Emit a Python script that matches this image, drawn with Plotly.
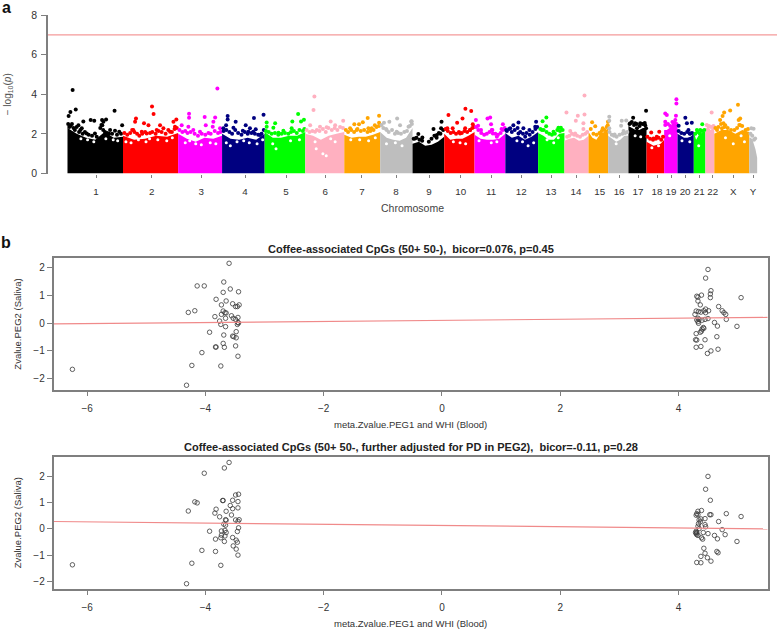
import plotly.graph_objects as go
from plotly.subplots import make_subplots
import numpy as np

WIDTH = 778
HEIGHT = 631

chrom_names = ['1', '2', '3', '4', '5', '6', '7', '8', '9', '10', '11', '12', '13', '14', '15', '16',
               '17', '18', '19', '20', '21', '22', 'X', 'Y']
chrom_length = [249, 247, 197, 191, 182, 175, 161, 145, 142, 136, 138, 147, 118, 108, 88, 91,
                81, 79, 60, 73, 52, 40, 157, 35]
chrom_ticks = [128, 378, 599, 796, 980, 1155, 1320, 1473, 1621, 1763, 1899, 2034, 2168, 2280, 2386, 2473,
               2558, 2643, 2706, 2769, 2832, 2893, 2985, 3074]
chrom_colors = ['black', 'red', 'magenta', 'navy', 'lime', '#FFB0C0', 'orange', '#BEBEBE']

# top of the solid band of points, read along each chromosome
band_top = [
    [2.3, 2.0, 1.8, 1.7, 2.1, 1.8, 1.85],
    [1.9, 1.7, 1.75, 1.9, 1.85, 2.05],
    [2.0, 1.75, 1.6, 1.8, 1.75, 1.9],
    [2.0, 1.75, 1.7, 1.8, 1.7, 2.0],
    [2.1, 1.8, 1.8, 1.9, 1.9, 2.1],
    [2.0, 1.9, 1.7, 1.9, 2.0, 2.1],
    [1.95, 1.8, 1.85, 1.85, 1.95, 2.1],
    [2.1, 1.8, 1.7, 1.65, 1.8, 2.3],
    [1.5, 1.6, 1.4, 1.45, 1.6, 1.85],
    [2.0, 1.7, 1.75, 1.75, 1.9, 2.1],
    [1.95, 1.75, 1.7, 1.7, 1.75, 2.0],
    [2.05, 1.8, 1.9, 1.7, 1.85, 2.1],
    [2.05, 1.9, 1.7, 1.7, 2.0, 2.05],
    [1.65, 1.75, 1.8, 1.65, 1.7, 1.9],
    [2.1, 1.8, 1.7, 2.0, 2.1, 2.3],
    [1.9, 1.75, 1.6, 1.7, 1.9, 1.9],
    [2.4, 2.3, 2.2, 2.2, 2.3, 2.3],
    [1.6, 1.5, 1.4, 1.45, 1.5, 1.7],
    [2.2, 2.2, 2.3, 2.4, 2.5, 2.4],
    [2.0, 1.9, 1.8, 1.8, 1.85, 2.0],
    [2.1, 1.7, 1.9, 2.0, 2.1, 2.1],
    [2.3, 2.3, 2.3, 2.2, 2.3, 2.3],
    [2.0, 2.2, 2.2, 2.0, 2.2, 2.1],
    [1.8, 1.8, 1.7, 1.5, 1.2, 0.8],
]

# strongest points, genome position in Mb from the start of chr1
hit_pos = [
    [23, 37, 13, 5, 211, 104, 120, 71, 155, 173, 161, 245, 64, 49, 86, 123, 191, 213, 156, 232],
    [379, 386, 307, 303, 343, 363, 475, 488, 415, 430, 400, 333, 482, 295, 355, 460],
    [672, 545, 545, 615, 662, 620, 654, 512, 542, 594, 651, 564, 684],
    [718, 718, 754, 711, 744, 699, 836, 879, 799, 786, 818, 844, 811, 863, 833],
    [893, 893, 931, 923, 1034, 1008, 1047, 1060, 1005, 968, 946],
    [1107, 1103, 1180, 1236, 1088, 1132, 1162, 1200, 1110],
    [1346, 1397, 1324, 1286, 1307, 1378, 1397, 1267, 1297, 1349, 1364],
    [1478, 1443, 1541, 1419, 1491, 1431, 1476, 1529, 1543],
    [1677, 1641, 1573, 1591, 1558, 1656, 1675],
    [1708, 1784, 1810, 1771, 1747, 1817, 1727, 1703, 1783, 1805, 1760],
    [1831, 1841, 1883, 1895, 1899, 1952, 1946, 1854, 1907, 1925, 1902],
    [2022, 1999, 1985, 2101, 2097, 2071, 2044, 1967, 2022, 2052],
    [2147, 2130, 2146, 2201, 2212, 2179, 2127],
    [2318, 2237, 2288, 2318, 2279, 2313, 2313, 2254, 2276],
    [2352, 2366, 2400, 2422, 2423, 2388],
    [2429, 2429, 2485, 2505, 2482, 2493, 2453, 2429],
    [2536, 2594, 2523, 2545, 2590, 2568, 2594, 2553],
    [2617, 2653, 2642, 2627],
    [2730, 2730, 2680, 2687, 2728, 2725, 2680, 2717],
    [2770, 2777, 2799, 2740, 2784, 2792],
    [2846, 2822, 2837],
    [2888, 2874, 2897],
    [3006, 2971, 2944, 2937, 2926, 2941, 2949, 2912, 3016, 3009, 3016, 3051, 2934],
    [3076, 3066, 3083],
]
hit_logp = [
    [4.22, 3.23, 3.11, 2.90, 3.17, 2.70, 2.66, 2.63, 2.70, 2.73, 2.61, 2.44, 2.28, 2.44, 2.02, 2.02, 2.19, 2.16, 2.44, 2.11],
    [3.38, 3.00, 2.78, 2.61, 2.53, 2.44, 2.61, 2.73, 2.44, 2.28, 2.19, 2.11, 2.36, 2.19, 2.02, 2.11],
    [4.29, 3.01, 2.81, 2.85, 2.83, 2.44, 2.61, 2.44, 2.36, 2.11, 2.36, 2.19, 2.28],
    [2.90, 2.73, 2.61, 2.44, 2.31, 2.28, 2.80, 2.96, 2.43, 2.16, 2.28, 2.23, 2.11, 1.94, 2.11],
    [2.58, 2.36, 2.53, 2.31, 3.00, 2.63, 2.63, 2.71, 2.28, 2.16, 2.06],
    [3.89, 3.20, 2.63, 2.66, 2.44, 2.36, 2.33, 2.44, 2.11],
    [2.80, 2.91, 2.59, 2.48, 2.48, 2.44, 2.56, 2.28, 2.19, 2.28, 2.28],
    [2.78, 2.61, 2.63, 2.56, 2.44, 2.19, 2.11, 2.36, 2.64],
    [2.61, 2.24, 1.99, 1.82, 1.77, 1.94, 2.28],
    [2.95, 3.27, 3.15, 2.78, 2.56, 2.48, 2.28, 2.28, 2.28, 2.19, 2.02],
    [2.70, 2.41, 2.78, 2.83, 2.49, 2.48, 2.24, 2.19, 2.02, 1.85, 2.19],
    [2.58, 2.44, 2.28, 2.61, 2.36, 2.19, 2.28, 2.19, 2.02, 1.85],
    [2.83, 2.64, 2.39, 2.31, 2.31, 2.11, 2.19],
    [3.94, 3.08, 2.91, 2.98, 2.66, 2.53, 2.24, 2.14, 2.02],
    [2.59, 2.38, 2.28, 2.44, 2.61, 2.02],
    [2.86, 2.66, 2.66, 2.68, 2.41, 2.14, 1.97, 2.28],
    [2.81, 3.17, 2.53, 2.53, 2.44, 2.53, 2.28, 2.28],
    [2.07, 2.11, 1.85, 1.77],
    [3.75, 3.53, 3.03, 2.95, 2.91, 2.70, 2.61, 2.44],
    [2.81, 2.53, 2.56, 2.41, 2.19, 2.02],
    [2.48, 2.19, 2.19],
    [3.08, 2.36, 2.36],
    [3.47, 3.18, 3.08, 2.90, 2.70, 2.53, 2.44, 2.19, 2.78, 2.70, 2.44, 2.24, 2.28],
    [2.26, 2.29, 1.77],
]

# crowded points just above the solid band
fringe_pos = [
    [3, 8, 14, 20, 27, 33, 41, 52, 58, 68, 78, 95, 110, 131, 147, 152, 160, 168, 178, 186, 200, 222, 240],
    [255, 268, 281, 290, 300, 312, 322, 335, 348, 370, 380, 395, 408, 422, 440, 452, 468, 480, 490],
    [502, 515, 528, 538, 552, 570, 585, 602, 618, 632, 642, 660, 675, 686],
    [700, 712, 726, 738, 752, 765, 780, 795, 808, 825, 840, 855, 870, 880],
    [890, 902, 915, 930, 945, 960, 975, 990, 1002, 1015, 1028, 1040, 1055, 1062],
    [1072, 1085, 1098, 1118, 1130, 1145, 1158, 1170, 1185, 1198, 1210, 1222, 1235],
    [1248, 1258, 1272, 1285, 1300, 1315, 1330, 1345, 1358, 1372, 1385, 1396],
    [1408, 1416, 1428, 1440, 1455, 1468, 1482, 1495, 1510, 1522, 1535, 1544],
    [1552, 1565, 1578, 1590, 1620, 1632, 1645, 1655, 1665, 1672, 1684],
    [1695, 1705, 1718, 1730, 1742, 1755, 1768, 1780, 1792, 1805, 1815, 1822],
    [1832, 1842, 1855, 1868, 1880, 1892, 1905, 1918, 1930, 1942, 1952, 1960],
    [1970, 1980, 1992, 2005, 2018, 2030, 2042, 2058, 2072, 2085, 2098, 2106],
    [2120, 2135, 2148, 2160, 2172, 2185, 2196, 2208, 2220],
    [2240, 2250, 2262, 2272, 2285, 2298, 2310, 2322, 2330],
    [2346, 2358, 2372, 2385, 2395, 2408, 2418],
    [2430, 2440, 2450, 2462, 2475, 2488, 2500, 2510],
    [2520, 2530, 2540, 2552, 2565, 2578, 2588],
    [2600, 2612, 2625, 2638, 2650, 2662, 2670],
    [2680, 2692, 2702, 2712, 2722, 2730],
    [2740, 2752, 2765, 2778, 2790, 2800],
    [2815, 2825, 2835, 2845, 2855],
    [2866, 2876, 2886, 2896],
    [2905, 2918, 2930, 2945, 2960, 2975, 2990, 3002, 3012, 3025, 3040],
    [3062, 3070, 3078],
]
fringe_logp = [
    [2.5, 2.35, 2.4, 2.5, 2.3, 2.2, 2.35, 2.1, 2.2, 2.0, 2.1, 1.95, 1.9, 1.85, 2.3, 2.45, 2.2, 2.1, 2.05, 2.0, 2.0, 1.95, 2.0],
    [2.05, 1.95, 2.05, 2.2, 2.1, 2.0, 1.9, 2.0, 2.1, 2.05, 2.1, 2.0, 2.15, 2.1, 2.0, 2.2, 2.1, 2.25, 2.3],
    [2.2, 2.1, 2.15, 2.05, 2.1, 2.0, 1.9, 2.0, 1.95, 2.05, 2.0, 2.15, 2.05, 2.1],
    [2.15, 2.2, 2.1, 2.0, 2.2, 2.05, 1.95, 2.1, 2.0, 2.05, 2.0, 1.95, 2.0, 2.2],
    [2.15, 2.1, 2.0, 2.05, 1.95, 2.0, 2.05, 2.0, 2.1, 2.15, 2.05, 2.2, 2.15, 2.25],
    [2.2, 2.1, 2.15, 2.2, 2.15, 2.25, 2.1, 2.3, 2.2, 2.3, 2.2, 2.35, 2.3],
    [2.2, 2.1, 2.2, 2.1, 2.25, 2.15, 2.2, 2.1, 2.15, 2.2, 2.35, 2.4],
    [2.45, 2.3, 2.25, 2.1, 2.2, 2.0, 2.05, 2.0, 2.1, 2.15, 2.4, 2.5],
    [1.75, 1.8, 1.7, 1.65, 1.6, 1.75, 1.9, 1.8, 2.05, 2.0, 2.2],
    [2.25, 2.15, 2.05, 2.1, 2.0, 2.1, 2.05, 2.15, 2.1, 2.2, 2.3, 2.35],
    [2.35, 2.2, 2.05, 1.95, 2.0, 2.1, 2.2, 2.0, 1.95, 2.05, 2.2, 2.3],
    [2.15, 2.25, 2.1, 2.2, 2.3, 2.1, 2.0, 2.05, 1.95, 2.1, 2.25, 2.35],
    [2.25, 2.2, 2.1, 2.0, 1.95, 2.0, 2.2, 2.15, 2.2],
    [1.85, 1.9, 2.0, 1.95, 1.9, 1.85, 1.95, 2.0, 2.1],
    [2.25, 2.0, 1.95, 2.05, 2.15, 2.2, 2.35],
    [2.1, 1.95, 1.9, 1.85, 1.95, 2.0, 2.05, 2.1],
    [2.5, 2.6, 2.45, 2.5, 2.4, 2.5, 2.55],
    [1.85, 1.75, 1.7, 1.75, 1.8, 1.7, 1.85],
    [2.45, 2.5, 2.4, 2.6, 2.55, 2.5],
    [2.15, 2.05, 2.0, 2.1, 2.0, 2.05],
    [2.0, 2.1, 2.0, 2.15, 2.2],
    [2.45, 2.4, 2.35, 2.4],
    [2.3, 2.35, 2.5, 2.35, 2.3, 2.2, 2.2, 2.3, 2.45, 2.4, 2.2],
    [2.0, 1.9, 1.7],
]

# white holes among the points of the solid band
hole_pos = [60, 90, 118, 172, 205, 225, 262, 285, 318, 352, 368, 405, 445, 470, 528, 548, 575, 600, 640, 665,
            712, 730, 760, 790, 815, 850, 875, 920, 935, 1000, 1040, 1110, 1115, 1145, 1160, 1180, 1200, 1270,
            1310, 1350, 1380, 1430, 1470, 1500, 1730, 1760, 1785, 1845, 1900, 1925, 2015, 2040, 2065, 2090,
            2150, 2180, 2200, 2460, 2545, 2570, 2620, 2650, 2700, 2755, 2790, 2830, 2950, 2985, 3020, 3035]
hole_logp = [1.75, 1.7, 1.6, 1.75, 1.7, 1.65, 1.6, 1.55, 1.7, 1.6, 1.75, 1.7, 1.65, 1.8, 1.55, 1.65, 1.5, 1.45, 1.55, 1.5,
             1.55, 1.4, 1.6, 1.65, 1.55, 1.5, 1.7, 1.5, 1.25, 1.65, 1.7, 1.6, 1.25, 1.0, 0.9, 1.75, 1.6, 1.7,
             1.7, 1.65, 1.8, 1.5, 1.55, 1.4, 1.6, 1.55, 1.5, 1.65, 1.55, 1.6, 1.65, 1.6, 1.4, 1.55,
             1.7, 1.55, 1.8, 1.5, 1.9, 1.85, 1.3, 1.4, 1.9, 1.65, 1.6, 1.4, 1.8, 1.5, 1.9, 1.6]

# regions with no probes
gap_center = [137, 1609, 2112, 2232, 2340, 2860]
gap_width = [9, 12, 5, 8, 8, 4]
gap_top = [1.65, 1.7, 2.1, 1.8, 2.1, 2.2]

threshold = 7

blood_top_neg = [-6.25, -4.32, -4.23, -4.06, -4.29, -4.18, -4.14, -4.02, -3.60, -3.69, -3.58, -3.70, -3.44, -3.82, -3.65,
                 -3.73, -3.54, -3.43, -3.46, -3.49, -3.84, -3.73, -3.70, -3.67, -3.65, -3.56, -3.53, -3.45, -3.66, -3.49,
                 -3.76, -3.74, -3.66, -3.45, -3.44, -3.46, -3.93, -3.69, -3.48, -3.54, -3.52, -3.48, -3.70, -3.83, -3.82,
                 -3.68, -3.49, -3.45, -3.74]
saliva_top_neg = [-1.66, -2.23, -1.52, -1.06, 0.38, 0.44, 1.33, 1.33, 2.14, 1.47, 1.22, 1.10, 1.12, 0.85, 0.79,
                  0.65, 0.69, 0.65, 0.59, 0.59, 0.23, 0.31, 0.43, 0.37, 0.36, 0.26, 0.17, 0.20, 0.17, 0.13,
                  0.07, -0.05, -0.13, 0.02, 0.00, -0.05, -0.33, -0.43, -0.31, -0.47, -0.49, -0.53, -0.73, -0.86, -0.86,
                  -0.87, -0.82, -1.19, -1.54]
blood_top_pos = [4.50, 4.46, 4.55, 4.54, 4.54, 4.39, 4.31, 4.33, 4.33, 4.37, 5.06, 4.68, 4.74, 4.77, 4.80,
                 4.30, 4.34, 4.38, 4.43, 4.46, 4.51, 4.28, 4.46, 4.81, 4.50, 4.45, 4.33, 4.31, 4.33, 4.34,
                 4.61, 4.66, 4.99, 4.43, 4.40, 4.39, 4.37, 4.30, 4.65, 4.29, 4.31, 4.45, 4.30, 4.38, 4.67,
                 4.55, 4.49, 4.40, 4.42, 4.35]
saliva_top_pos = [1.92, 1.61, 1.16, 1.04, 0.91, 1.00, 0.96, 0.93, 0.79, 0.65, 0.91, 0.59, 0.44, 0.37, 0.31,
                  0.43, 0.41, 0.39, 0.44, 0.50, 0.44, 0.31, 0.37, 0.13, 0.16, 0.13, 0.17, 0.11, 0.05, -0.01,
                  0.02, -0.11, -0.12, -0.19, -0.22, -0.29, -0.33, -0.38, -0.49, -0.60, -0.61, -0.60, -0.87, -0.84, -0.94,
                  -1.00, -1.09, 0.10, -0.16, 0.13]

blood_low_neg = [-6.25, -4.32, -4.23, -4.06, -4.29, -4.18, -4.14, -4.02, -3.60, -3.68, -3.71, -3.70, -3.44, -3.49, -3.54,
                 -3.45, -3.58, -3.54, -3.45, -3.82, -3.84, -3.65, -3.56, -3.76, -3.66, -3.65, -3.43, -3.49, -3.45, -3.69,
                 -3.66, -3.44, -3.46, -3.93, -3.73, -3.67, -3.65, -3.73, -3.67, -3.74, -3.83, -3.68, -3.48, -3.46, -3.54,
                 -3.53, -3.48, -3.83, -3.45, -3.74]
saliva_low_neg = [-1.37, -2.09, -1.31, -0.82, 0.68, 1.03, 0.99, 2.12, 2.53, 2.32, 1.08, 1.08, 1.32, 1.29, 1.09,
                  1.04, 0.89, 0.77, 0.80, 0.75, 0.60, 0.67, 0.53, 0.46, 0.35, 0.33, 0.35, 0.34, 0.29, 0.18,
                  0.14, 0.04, -0.10, -0.09, -0.08, -0.06, -0.14, -0.24, -0.27, -0.34, -0.39, -0.48, -0.43, -0.51, -0.33,
                  -0.65, -0.77, -0.86, -1.00, -1.39]
blood_low_pos = [4.50, 4.46, 4.54, 4.39, 4.33, 4.31, 4.30, 4.81, 5.06, 4.53, 4.55, 4.68, 4.45, 4.38, 4.35,
                 4.34, 4.33, 4.45, 4.46, 4.74, 4.79, 4.61, 4.66, 4.99, 4.50, 4.42, 4.30, 4.29, 4.31, 4.33,
                 4.39, 4.41, 4.43, 4.45, 4.38, 4.49, 4.55, 4.31, 4.38, 4.65, 4.67, 4.33, 4.37, 4.35, 4.31, 4.30]
saliva_low_pos = [2.00, 1.51, 1.09, 0.70, 0.67, 0.58, 0.52, 0.58, 0.47, 0.54, 0.54, 0.28, 0.39, 0.38, 0.34,
                  0.20, 0.10, 0.16, 0.08, -0.03, -0.22, -0.25, -0.38, -0.48, -0.18, -0.14, -0.09, -0.14, -0.22, -0.25,
                  -0.34, -0.39, -0.74, -0.93, -1.05, -1.10, -1.23, -1.28, -1.29, -0.86, -0.91, 0.54, 0.27, 0.01, -0.14, -0.18]

fit_x = [-6.57, 5.51]
fit_top = [-0.03, 0.20]
fit_low = [0.28, 0.00]

title_top = 'Coffee-associated CpGs (50+ 50-),  bicor=0.076, p=0.45'
title_low = 'Coffee-associated CpGs (50+ 50-, further adjusted for PD in PEG2),  bicor=-0.11, p=0.28'


def px_x(value):
    return value / WIDTH


def px_y(value):
    return 1 - value / HEIGHT


fig = make_subplots(rows=3, cols=1)

chrom_start = np.concatenate(([0], np.cumsum(chrom_length)[:-1]))

for i, name in enumerate(chrom_names):
    color = chrom_colors[i % len(chrom_colors)]
    x = np.linspace(chrom_start[i], chrom_start[i] + chrom_length[i], len(band_top[i]))
    fig.add_trace(go.Scatter(x=x, y=band_top[i], mode='lines', fill='tozeroy', fillcolor=color,
                             line=dict(color=color, width=0), hoverinfo='skip'), row=1, col=1)

fig.add_trace(go.Bar(x=gap_center, y=gap_top, width=gap_width, marker=dict(color='white', line=dict(width=0))),
              row=1, col=1)
fig.add_trace(go.Scatter(x=hole_pos, y=hole_logp, mode='markers', marker=dict(color='white', size=3),
                         hoverinfo='skip'), row=1, col=1)

for i, name in enumerate(chrom_names):
    color = chrom_colors[i % len(chrom_colors)]
    fig.add_trace(go.Scatter(x=fringe_pos[i], y=fringe_logp[i], mode='markers',
                             marker=dict(color=color, size=4), name='chr' + name), row=1, col=1)
    fig.add_trace(go.Scatter(x=hit_pos[i], y=hit_logp[i], mode='markers',
                             marker=dict(color=color, size=4), name='chr' + name), row=1, col=1)

fig.add_trace(go.Scatter(x=[-90, 3185], y=[threshold, threshold], mode='lines',
                         line=dict(color='#F49A9A', width=1.2)), row=1, col=1)

for row, blood_neg, saliva_neg, blood_pos, saliva_pos, fit in [
    (2, blood_top_neg, saliva_top_neg, blood_top_pos, saliva_top_pos, fit_top),
    (3, blood_low_neg, saliva_low_neg, blood_low_pos, saliva_low_pos, fit_low),
]:
    fig.add_trace(go.Scatter(x=blood_neg + blood_pos, y=saliva_neg + saliva_pos, mode='markers',
                             marker=dict(symbol='circle-open', color='#3A3A3A', size=4.5, line=dict(width=0.8))),
                  row=row, col=1)
    fig.add_trace(go.Scatter(x=fit_x, y=fit, mode='lines', line=dict(color='#F08A8A', width=1.2)), row=row, col=1)

axis_gray = '#7F7F7F'

fig.update_xaxes(row=1, col=1, domain=[px_x(48), px_x(777)], range=[-87.4, 3181], showgrid=False, zeroline=False,
                 showline=False, tickmode='array', tickvals=chrom_ticks, ticktext=chrom_names, ticks='outside',
                 ticklen=3, tickcolor=axis_gray, tickfont=dict(family='Liberation Sans', size=9.8, color='#333333'),
                 ticklabelstandoff=6, tickangle=0, automargin=False,
                 title=dict(text='Chromosome', font=dict(family='Liberation Sans', size=10.5, color='#444444'),
                            standoff=8))
fig.update_yaxes(row=1, col=1, domain=[px_y(173.5), px_y(15)], range=[0, 8], showgrid=False, zeroline=False,
                 showline=True, linecolor=axis_gray, linewidth=1.5, tickvals=[0, 2, 4, 6, 8], ticks='outside',
                 ticklen=5, tickcolor=axis_gray, tickfont=dict(family='Liberation Sans', size=10.5, color='#333333'),
                 ticklabelstandoff=2, automargin=False,
                 title=dict(text='− log<sub>10</sub>(<i>p</i>)', font=dict(family='Liberation Sans', size=10, color='#555555'),
                            standoff=18))

for row, top, bottom, y_range in [(2, 258.3, 389.7, [-2.39, 2.32]), (3, 456.7, 588.7, [-2.28, 2.75])]:
    fig.update_xaxes(row=row, col=1, domain=[px_x(53.5), px_x(767.7)], range=[-6.57, 5.51], showgrid=False,
                     zeroline=False, showline=True, mirror=True, linecolor=axis_gray, linewidth=1.5,
                     tickvals=[-6, -4, -2, 0, 2, 4], ticks='outside', ticklen=5, tickcolor=axis_gray,
                     tickfont=dict(family='Liberation Sans', size=10, color='#333333'), ticklabelstandoff=4,
                     automargin=False,
                     title=dict(text='meta.Zvalue.PEG1 and WHI (Blood)',
                                font=dict(family='Liberation Sans', size=9.5, color='#333333'), standoff=8))
    fig.update_yaxes(row=row, col=1, domain=[px_y(bottom), px_y(top)], range=y_range, showgrid=False,
                     zeroline=False, showline=True, mirror=True, linecolor=axis_gray, linewidth=1.5,
                     tickvals=[-2, -1, 0, 1, 2], ticks='outside', ticklen=5, tickcolor=axis_gray,
                     tickfont=dict(family='Liberation Sans', size=10, color='#333333'), ticklabelstandoff=0,
                     automargin=False,
                     title=dict(text='Zvalue.PEG2 (Saliva)',
                                font=dict(family='Liberation Sans', size=9.5, color='#333333'), standoff=10))

notes = [
    ('a', 6, 8, 16, '#111111'),
    ('b', 6, 242, 16, '#111111'),
    (title_top, 410.5, 248.5, 11, '#222222'),
    (title_low, 410.5, 447, 11, '#222222'),
]
for text, x, y, size, color in notes:
    fig.add_annotation(text='<b>' + text + '</b>', x=px_x(x), y=px_y(y), xref='paper', yref='paper',
                       xanchor='center', yanchor='middle', showarrow=False,
                       font=dict(family='Liberation Sans', size=size, color=color))

fig.update_layout(width=WIDTH, height=HEIGHT, margin=dict(l=0, r=0, t=0, b=0), showlegend=False,
                  paper_bgcolor='white', plot_bgcolor='white', barmode='overlay')

fig.write_html("out.html", post_script="document.body.style.margin='0';",
               config=dict(displayModeBar=False))
